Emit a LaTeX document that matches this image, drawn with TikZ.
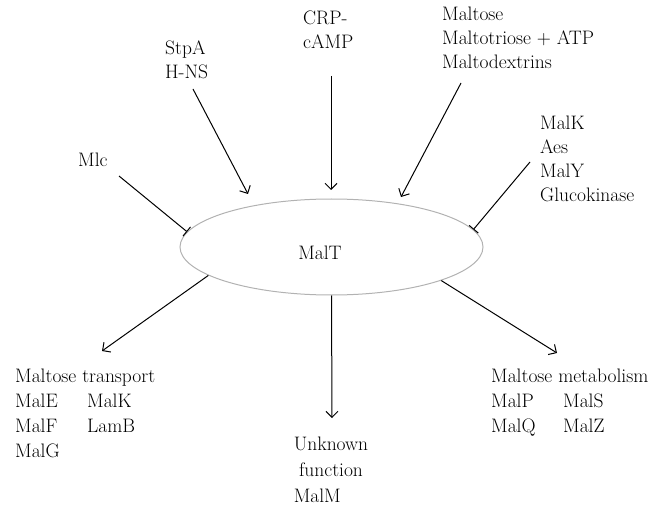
\documentclass[tikz,border=0pt]{standalone}
\usetikzlibrary{arrows.meta,shapes.geometric}
\newcommand{\lines}[1]{\begin{tabular}[t]{@{}l@{}}#1\end{tabular}}
\newcommand{\twocol}[2]{\makebox[72pt][l]{#1}#2}

\begin{document}
\begin{tikzpicture}[x=1pt,y=-1pt,font=\fontsize{19.5}{24}\selectfont]
			\tikzstyle{txt} = [anchor=base west, inner sep=0pt]
			\tikzstyle{act} = [-{Straight Barb[length=6pt,width=12pt]}, line width=1pt]
			\tikzstyle{inh} = [-{Bar[width=12pt]}, line width=1pt]
			\useasboundingbox (0,0) rectangle (664,505);
			\node[ellipse, draw=black!30, line width=1pt, inner sep=0pt,
				minimum width=303pt, minimum height=96pt] (malt) at (331.5,247) {};
			\node[inner sep=0pt, anchor=base] (maltname) at (320,259) {MalT};
			\node[txt] (stpa) at (165,55) {\lines{StpA\\H-NS}};
			\node[txt] (crp) at (303,25) {\lines{CRP-\\cAMP}};
			\node[txt] (sugars) at (442,21) {\lines{Maltose\\Maltotriose + ATP\\Maltodextrins}};
			\node[txt] (inhib) at (540,130) {\lines{MalK\\Aes\\MalY\\Glucokinase}};
			\node[txt] (mlc) at (78,167) {Mlc};
			\node[txt, font=\fontsize{19.5}{25}\selectfont] (transport) at (15,382)
				{\lines{Maltose transport\\\twocol{MalE}{MalK}\\\twocol{MalF}{LamB}\\MalG}};
			\node[txt, font=\fontsize{19.5}{25}\selectfont] (metab) at (491,382)
				{\lines{Maltose metabolism\\\twocol{MalP}{MalS}\\\twocol{MalQ}{MalZ}}};
			\node[txt, anchor=base, font=\fontsize{19.5}{26}\selectfont] (unknown) at (331,450)
				{\begin{tabular}[t]{@{}c@{}}Unknown\\function\\\multicolumn{1}{@{}l@{}}{MalM}\end{tabular}};
			\coordinate (stpa-from) at (193,89);
			\coordinate (stpa-to) at (248,194);
			\coordinate (crp-from) at (331,76);
			\coordinate (crp-to) at (331,190);
			\coordinate (sugars-from) at (461,83);
			\coordinate (sugars-to) at (401,197);
			\coordinate (mlc-from) at (119,176);
			\coordinate (inhib-from) at (530,162);
			\coordinate (transport-to) at (102,351);
			\coordinate (unknown-to) at (332,418);
			\coordinate (metab-to) at (557,353);
			\draw (stpa-from) to (stpa-to) [act];
			\draw (crp-from) to (crp-to) [act];
			\draw (sugars-from) to (sugars-to) [act];
			\draw (mlc-from) to (malt.174) [inh];
			\draw (inhib-from) to (malt.7) [inh];
			\draw (malt.193) to (transport-to) [act];
			\draw (malt.270) to (unknown-to) [act];
			\draw (malt.343) to (metab-to) [act];
		\end{tikzpicture}
\end{document}
